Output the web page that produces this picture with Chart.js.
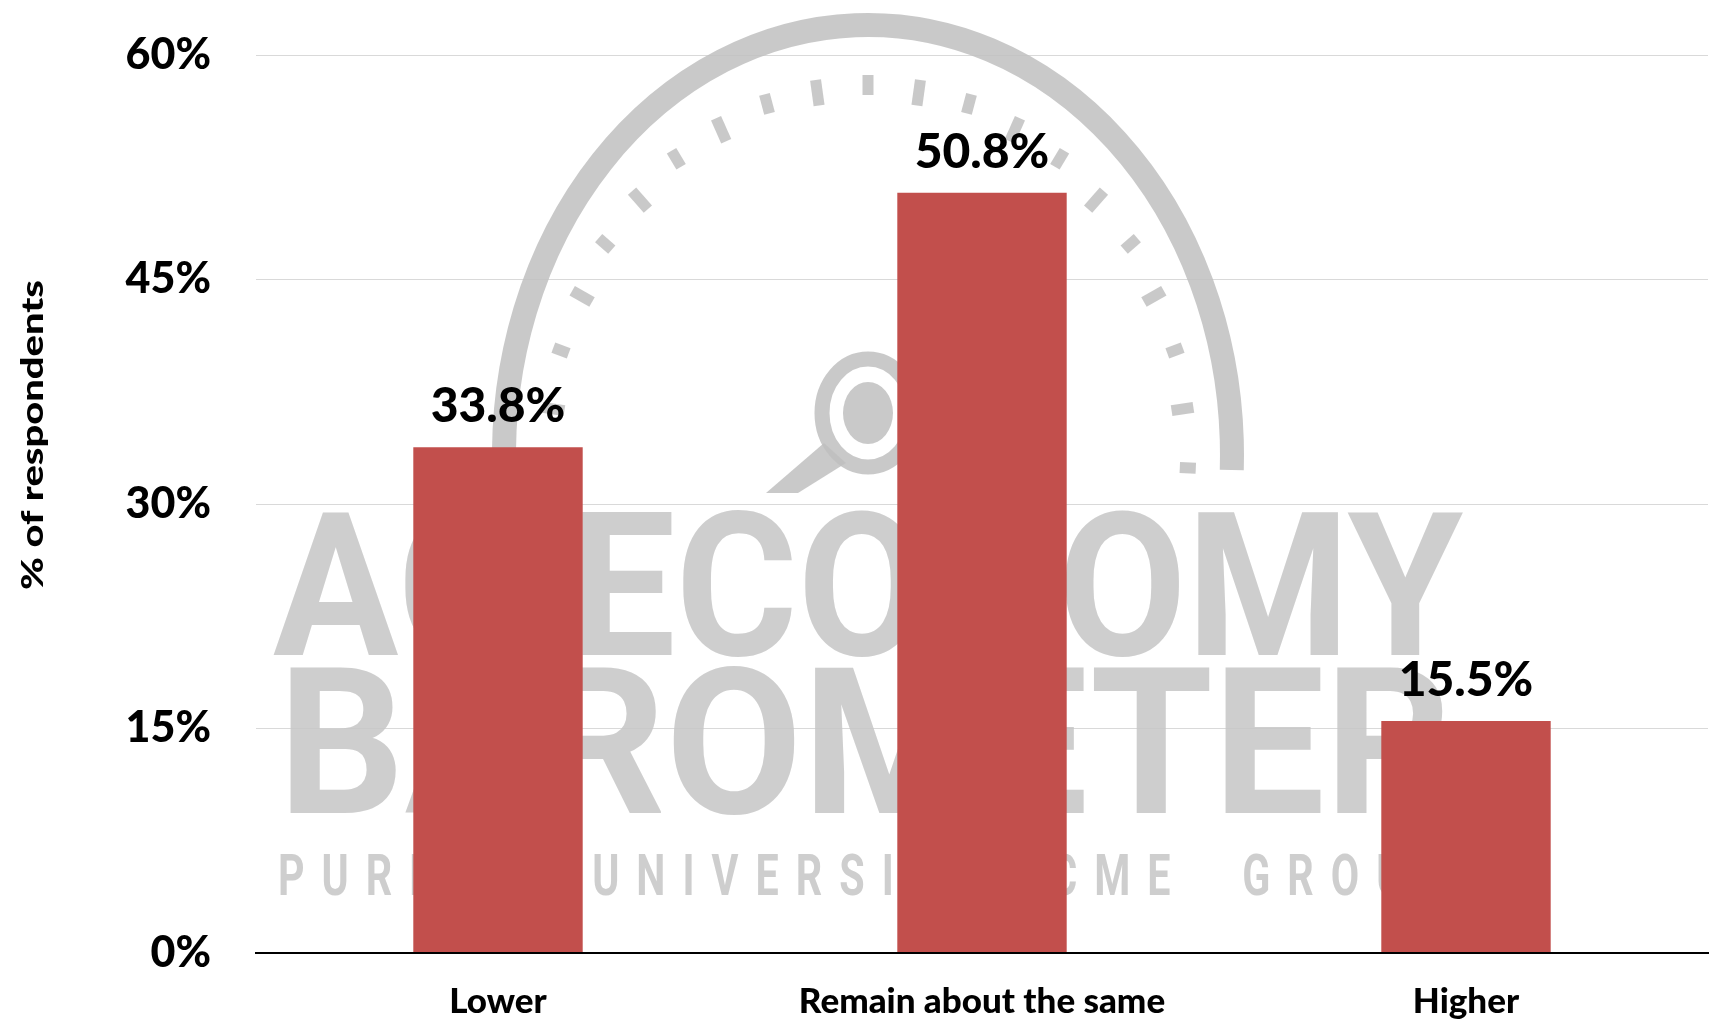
<!DOCTYPE html>
<html>
<head>
<meta charset="utf-8">
<script src="https://cdn.jsdelivr.net/npm/chart.js@4.4.1/dist/chart.umd.min.js"></script>
<style>
    html, body { margin: 0; padding: 0; background: #fff; }
    #wrap { width: 1712px; height: 1021px; position: relative; }
</style>
</head>
<body>
<div id="wrap"><canvas id="chart"></canvas></div>
<script>
const categories = ['Lower', 'Remain about the same', 'Higher'];
const respondents = [33.8, 50.8, 15.5];
const yTicks = [0, 15, 30, 45, 60];
const yTitle = '% of respondents';

const barColor = '#c24f4c';
const gridColor = '#d9d9d9';
const markGray = 'rgba(192, 192, 192, 0.85)';

// draw text so that it fills a given width, starting at x with the given cap height
function fitText(ctx, text, x, baseline, width, capHeight, spacing) {
    ctx.save();
    ctx.font = 'bold ' + Math.round(capHeight / 0.711) + 'px Roboto';
    ctx.letterSpacing = (spacing || 0) + 'px';
    ctx.textAlign = 'left';
    ctx.textBaseline = 'alphabetic';
    const w = ctx.measureText(text).width - (spacing || 0);
    ctx.translate(x, baseline);
    ctx.scale(width / w, 1);
    ctx.fillText(text, 0, 0);
    ctx.restore();
}

// faint gauge logo sitting behind the bars
const watermark = {
    id: 'watermark',
    beforeDatasetsDraw(chart) {
        const ctx = chart.ctx;
        const cx = 868, cy = 455;
        ctx.save();
        ctx.strokeStyle = markGray;
        ctx.fillStyle = markGray;

        ctx.lineWidth = 24;
        ctx.beginPath();
        ctx.ellipse(cx, cy, 364, 430, 0, Math.PI * 178 / 180, Math.PI * 2 / 180);
        ctx.stroke();

        // scale dashes
        ctx.lineWidth = 11;
        for (let i = 0; i <= 20; i++) {
            const t = Math.PI * (178 + i * 9.2) / 180;
            const inner = i % 2 ? 0 : 6;
            ctx.beginPath();
            ctx.moveTo(cx + (306 + inner) * Math.cos(t), cy + (354 + inner) * Math.sin(t));
            ctx.lineTo(cx + 328 * Math.cos(t), cy + 380 * Math.sin(t));
            ctx.stroke();
        }

        // magnifying glass
        const mx = 868, my = 413;
        ctx.lineWidth = 15;
        ctx.beginPath();
        ctx.ellipse(mx, my, 46, 54, 0, 0, Math.PI * 2);
        ctx.stroke();
        ctx.beginPath();
        ctx.ellipse(mx, my, 25, 31, 0, 0, Math.PI * 2);
        ctx.fill();
        ctx.beginPath();
        ctx.moveTo(mx - 44, my + 30);
        ctx.lineTo(mx - 102, my + 80);
        ctx.lineTo(mx - 70, my + 80);
        ctx.lineTo(mx - 22, my + 50);
        ctx.closePath();
        ctx.fill();

        ctx.fillStyle = 'rgba(198, 198, 198, 0.85)';
        fitText(ctx, 'AG ECONOMY', 273, 655, 1190, 142, 0);
        fitText(ctx, 'BAROMETER', 278, 813, 1174, 145, 0);
        fitText(ctx, 'PURDUE  UNIVERSITY  CME  GROUP', 278, 895, 1169, 41, 24);
        ctx.restore();
    }
};

// value labels above the bars and the rotated axis title
const labels = {
    id: 'labels',
    afterDatasetsDraw(chart) {
        const ctx = chart.ctx;
        const meta = chart.getDatasetMeta(0);
        ctx.save();
        ctx.fillStyle = '#000';
        ctx.font = '900 48px Lato';
        ctx.textAlign = 'center';
        ctx.textBaseline = 'alphabetic';
        meta.data.forEach((bar, i) => {
            ctx.fillText(respondents[i].toFixed(1) + '%', bar.x, bar.y - 25);
        });
        ctx.restore();
    },
    afterDraw(chart) {
        const ctx = chart.ctx;
        ctx.save();
        ctx.fillStyle = '#000';
        ctx.font = '900 30px Lato';
        ctx.textAlign = 'center';
        ctx.textBaseline = 'middle';
        const w = ctx.measureText(yTitle).width;
        ctx.translate(33, 435);
        ctx.rotate(-Math.PI / 2);
        ctx.scale(310 / w, 1);
        ctx.fillText(yTitle, 0, 0);
        ctx.restore();
    }
};

new Chart(document.getElementById('chart'), {
    type: 'bar',
    data: {
        labels: categories,
        datasets: [{
            data: respondents,
            backgroundColor: barColor,
            categoryPercentage: 1,
            barPercentage: 0.35,
        }]
    },
    options: {
        responsive: true,
        maintainAspectRatio: false,
        animation: false,
        layout: { padding: { top: 55, right: 4, left: 0, bottom: 0 } },
        plugins: {
            legend: { display: false },
            tooltip: { enabled: false }
        },
        scales: {
            x: {
                grid: { display: false, drawTicks: false },
                border: { display: true, color: '#000', width: 2, z: 1 },
                ticks: {
                    color: '#000',
                    font: { family: 'Lato', weight: '900', size: 35 },
                    padding: 28,
                    maxRotation: 0
                },
                afterFit: s => { s.height = 68; }
            },
            y: {
                min: 0,
                max: 60,
                afterBuildTicks: s => { s.ticks = yTicks.map(v => ({ value: v })); },
                grid: {
                    color: c => c.tick && c.tick.value === 0 ? 'rgba(0,0,0,0)' : gridColor,
                    lineWidth: 1,
                    drawTicks: false
                },
                border: { display: false },
                ticks: {
                    color: '#000',
                    font: { family: 'Lato', weight: '900', size: 43 },
                    padding: 45,
                    callback: v => v + '%'
                },
                // tick padding would otherwise push the plot area in from top and bottom
                afterFit: s => { s.width = 256; s.paddingTop = 0; s.paddingBottom = 0; }
            }
        }
    },
    plugins: [watermark, labels]
});
</script>
</body>
</html>
